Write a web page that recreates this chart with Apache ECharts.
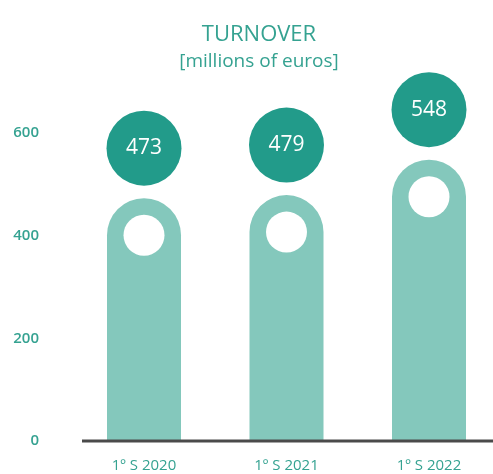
<!DOCTYPE html>
<html>
<head>
<meta charset="utf-8">
<script src="https://cdn.jsdelivr.net/npm/echarts@6/dist/echarts.min.js"></script>
<style>
  html, body { margin: 0; padding: 0; background: #fff; }
  #main { width: 493px; height: 474px; }
</style>
</head>
<body>
<div id="main"></div>
<script>
// data
var periods = ['1º S 2020', '1º S 2021', '1º S 2022'];
var turnover = [473, 479, 548];
var yTicks = [0, 200, 400, 600];

var teal = '#229b8a';
var lightTeal = '#84c8bc';
var textTeal = '#35a291';
var font = 'Open Sans';

var chart = echarts.init(document.getElementById('main'));

var option = {
  animation: false,
  title: [
    {
      text: 'TURNOVER',
      left: 254, top: 19, textAlign: 'center',
      textStyle: { color: textTeal, fontSize: 22, fontWeight: 'normal', fontFamily: font }
    },
    {
      text: '[millions of euros]',
      left: 254, top: 47, textAlign: 'center',
      textStyle: { color: textTeal, fontSize: 19, fontWeight: 'normal', fontFamily: font }
    }
  ],
  // categories sit on the grid edges so the spacing matches the original
  grid: { left: 144, right: 64, top: 133, bottom: 33 },
  xAxis: {
    type: 'category',
    data: periods,
    boundaryGap: false,
    axisLine: { show: false },
    axisTick: { show: false },
    axisLabel: { color: textTeal, fontSize: 15, fontFamily: font, margin: 17 }
  },
  yAxis: {
    type: 'value',
    min: yTicks[0],
    max: yTicks[yTicks.length - 1],
    interval: 200,
    splitLine: { show: false },
    axisLine: { show: false },
    axisTick: { show: false },
    axisLabel: { color: textTeal, fontSize: 15, fontWeight: 600, fontFamily: font, margin: 105 }
  },
  graphic: [
    { type: 'rect', shape: { x: 82, y: 439.5, width: 411, height: 3 }, style: { fill: '#4a4a4a' }, z: 10 }
  ],
  series: [
    {
      type: 'bar',
      data: turnover,
      barWidth: 74,
      clip: false,
      itemStyle: { color: lightTeal, borderRadius: [37, 37, 0, 0] },
      z: 2
    },
    {
      // white dot inside the rounded top
      type: 'scatter',
      data: turnover,
      symbol: 'circle',
      symbolSize: 41,
      symbolOffset: [0, 37],
      itemStyle: { color: '#fff', opacity: 1 },
      clip: false,
      silent: true,
      z: 3
    },
    {
      // value bubble
      type: 'scatter',
      data: turnover,
      symbol: 'circle',
      symbolSize: 75,
      symbolOffset: [0, -50],
      itemStyle: { color: teal, opacity: 1 },
      label: {
        show: true,
        position: 'inside',
        color: '#fff',
        fontSize: 21,
        fontFamily: font,
        formatter: function (p) { return p.value; }
      },
      clip: false,
      silent: true,
      z: 4
    }
  ]
};

chart.setOption(option);
</script>
</body>
</html>
